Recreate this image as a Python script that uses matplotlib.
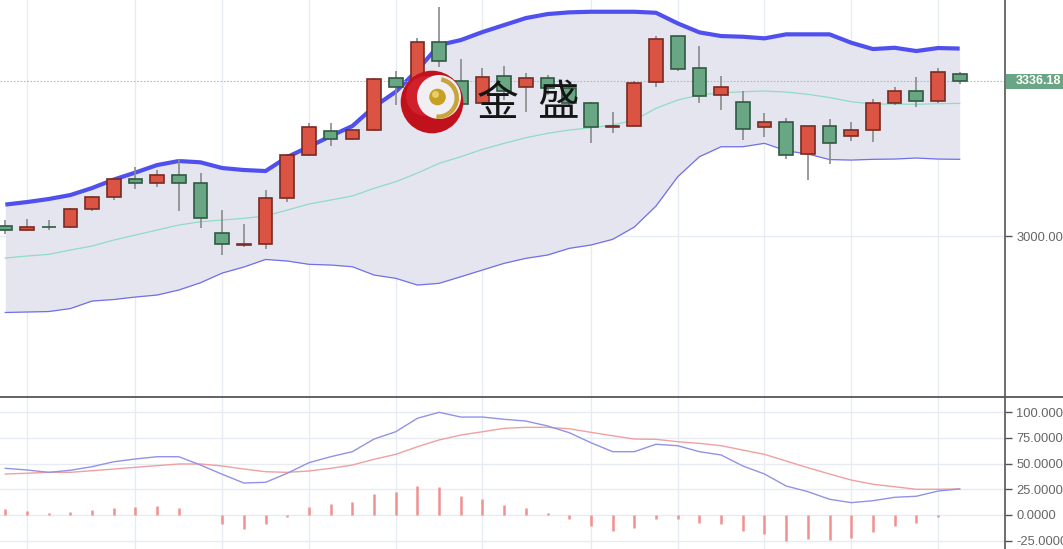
import numpy as np
import matplotlib
matplotlib.use('Agg')
import matplotlib.pyplot as plt
from matplotlib.patches import Circle, Rectangle, Wedge
from matplotlib.lines import Line2D

plt.rcParams['font.family'] = ['Liberation Sans', 'DejaVu Sans']

# daily K-line data
opens = [3022.3, 3012.4, 3020.2, 3019.5, 3057.9, 3085.2, 3123.6, 3114.3, 3131.7, 3114.3,
         3005.9, 2979.8, 2983.3, 3082.4, 3175.0, 3227.1, 3210.4, 3229.3, 3342.1, 3321.0,
         3421.4, 3336.8, 3287.8, 3347.7, 3323.8, 3342.1, 3321.0, 3287.8, 3237.5, 3238.6,
         3334.7, 3434.5, 3364.4, 3305.8, 3290.0, 3236.4, 3247.3, 3178.5, 3238.6, 3217.6,
         3229.3, 3289.1, 3314.5, 3293.5, 3352.0]
highs = [3034.7, 3037.5, 3034.7, 3060.7, 3086.8, 3126.5, 3149.0, 3143.2, 3167.0, 3137.3,
         3056.4, 3025.4, 3099.8, 3177.2, 3244.4, 3244.4, 3232.1, 3342.7, 3357.2, 3428.8,
         3497.4, 3383.9, 3365.0, 3369.4, 3352.9, 3349.2, 3327.5, 3290.0, 3268.3, 3336.2,
         3433.8, 3434.5, 3412.1, 3346.4, 3314.5, 3266.1, 3256.6, 3239.5, 3253.1, 3247.9,
         3296.5, 3323.8, 3344.2, 3364.4, 3356.4]
lows = [3004.3, 3010.8, 3013.0, 3018.4, 3054.9, 3078.1, 3101.9, 3106.9, 3054.9, 3017.4,
        2958.8, 2975.5, 2972.5, 3073.1, 3174.0, 3195.2, 3209.3, 3228.8, 3283.5, 3316.7,
        3367.2, 3280.4, 3284.1, 3295.0, 3268.3, 3305.8, 3282.0, 3202.4, 3222.8, 3236.4,
        3322.5, 3357.9, 3289.1, 3273.3, 3208.2, 3215.4, 3167.7, 3121.5, 3155.5, 3205.4,
        3204.5, 3284.8, 3279.1, 3289.1, 3329.7]
closes = [3012.4, 3020.2, 3018.9, 3058.6, 3083.9, 3123.6, 3114.3, 3131.7, 3114.3, 3039.0,
          2982.0, 2983.3, 3082.4, 3175.0, 3236.4, 3210.4, 3229.3, 3340.5, 3322.5, 3421.4,
          3379.6, 3285.7, 3345.5, 3315.2, 3342.1, 3321.0, 3288.5, 3236.4, 3238.6, 3331.2,
          3427.3, 3362.2, 3304.3, 3322.5, 3232.1, 3247.9, 3176.3, 3238.6, 3202.4, 3229.3,
          3287.8, 3313.9, 3293.5, 3355.7, 3336.18]

# bollinger bands
boll_upper = [3068.3, 3073.7, 3080.3, 3088.9, 3104.1, 3122.5, 3137.7, 3154.0, 3162.7, 3159.9,
              3147.5, 3143.2, 3141.0, 3171.4, 3193.7, 3216.9, 3238.6, 3280.4, 3313.0, 3360.1,
              3414.3, 3425.1, 3442.5, 3457.7, 3472.8, 3481.5, 3485.2, 3486.5, 3486.5, 3486.5,
              3484.3, 3461.3, 3441.8, 3433.8, 3432.3, 3428.8, 3437.5, 3437.5, 3437.5, 3419.3,
              3405.6, 3408.4, 3401.3, 3407.8, 3406.7]
boll_mid = [2952.3, 2956.6, 2960.3, 2969.6, 2978.3, 2991.3, 3002.2, 3013.0, 3023.9, 3031.0,
            3034.7, 3038.4, 3043.4, 3056.4, 3069.4, 3078.1, 3086.8, 3103.5, 3117.8, 3136.6,
            3157.7, 3172.0, 3188.1, 3201.1, 3213.2, 3222.8, 3229.9, 3234.9, 3240.8, 3251.6,
            3277.0, 3295.0, 3305.8, 3310.8, 3313.0, 3314.5, 3312.3, 3307.4, 3300.4, 3291.3,
            3286.3, 3286.3, 3285.7, 3287.0, 3287.8]
boll_lower = [2834.1, 2835.2, 2836.2, 2842.7, 2859.0, 2862.3, 2867.7, 2872.0, 2882.9, 2898.7,
              2919.7, 2932.8, 2949.2, 2945.8, 2938.6, 2937.1, 2933.4, 2915.4, 2908.3, 2893.7,
              2897.4, 2911.7, 2926.3, 2940.8, 2951.6, 2958.8, 2973.3, 2980.5, 2992.8, 3019.5,
              3065.1, 3128.6, 3172.0, 3193.7, 3193.7, 3201.1, 3185.0, 3177.9, 3165.9, 3164.8,
              3166.4, 3167.0, 3169.2, 3167.0, 3166.4]

# lower indicator panel
dif = [45.4, 43.8, 41.5, 43.5, 47.0, 51.8, 54.5, 56.7, 56.7, 48.6,
       39.6, 31.1, 31.8, 40.6, 50.9, 56.7, 61.6, 73.9, 81.0, 94.1,
       99.9, 95.3, 95.3, 93.1, 91.4, 86.6, 80.1, 70.3, 61.6, 61.6,
       68.8, 67.4, 61.6, 58.4, 47.7, 39.9, 28.2, 22.7, 15.3, 12.0,
       13.9, 17.2, 18.2, 23.3, 25.3]
dea = [39.9, 40.6, 41.5, 41.5, 43.1, 44.7, 46.4, 48.0, 49.6, 49.6,
       47.7, 44.7, 42.1, 41.5, 42.8, 45.4, 48.6, 54.2, 59.0, 66.4,
       73.0, 77.8, 81.0, 84.3, 85.3, 85.3, 83.9, 80.4, 77.1, 73.9,
       73.6, 71.3, 69.7, 67.4, 63.2, 59.0, 52.5, 46.0, 39.9, 34.0,
       29.9, 27.5, 25.0, 25.0, 25.3]
macd_bar = [5.5, 3.9, 1.9, 2.9, 4.6, 7.1, 7.8, 8.8, 7.1, 0.0,
            -8.5, -13.6, -9.0, -1.9, 7.8, 10.7, 12.9, 20.7, 22.4, 28.2,
            27.2, 18.2, 15.6, 9.4, 7.1, 1.9, -4.2, -10.7, -15.6, -12.4,
            -4.2, -4.2, -7.5, -9.0, -15.6, -18.2, -25.3, -23.3, -24.3, -22.7,
            -16.5, -10.7, -7.5, -1.7, 0.0]

grid_idx = [1, 6, 10, 14, 18, 22, 27, 31, 35, 39, 43]
price_ticks = [3000]
ind_ticks = [100, 75, 50, 25, 0, -25]
last_price = 3336.18

W, H = 1063, 549
fig = plt.figure(figsize=(W / 100, H / 100), dpi=100)
fig.patch.set_facecolor('white')

ax = fig.add_axes([0, 1 - 396 / H, 1005 / W, 396 / H])
ax2 = fig.add_axes([0, 0, 1005 / W, 152 / H])

x = np.arange(len(closes))
o = np.array(opens); c = np.array(closes)
up = c >= o
grid_c = '#e6ecf2'

for a in (ax, ax2):
    a.set_xlim(-0.245, 46.09)
    for g in grid_idx:
        a.axvline(g, color=grid_c, lw=1, zorder=0)
    a.set_xticks([])
    a.yaxis.tick_right()
    a.tick_params(axis='y', direction='out', length=5, width=1, color='#555555',
                  labelcolor='#666666', labelsize=9.3, pad=3)
    for s in ('left', 'top', 'bottom'):
        a.spines[s].set_visible(False)
    a.spines['right'].set_color('#555555')
    a.spines['right'].set_linewidth(1.2)

# top panel
ax.set_ylim(2653, 3512)
ax.set_yticks(price_ticks)
ax.set_yticklabels(['%.2f' % v for v in price_ticks])
for t in price_ticks:
    ax.axhline(t, color=grid_c, lw=1, zorder=0)

ax.fill_between(x, boll_lower, boll_upper, color='#e5e5f0', zorder=1, lw=0)
ax.plot(x, boll_mid, color='#8fdcc4', lw=0.9, zorder=2)
ax.plot(x, boll_lower, color='#7070ea', lw=0.9, zorder=2)
ax.plot(x, boll_upper, color='#5050ee', lw=3.0, zorder=2, solid_capstyle='butt')
ax.axhline(last_price, color='#b8b8b8', lw=0.8, ls=(0, (1.5, 1.5)), zorder=2)

ax.vlines(x, lows, highs, color='#8a8a8a', lw=1.2, zorder=3)
body_lo = np.minimum(o, c)
body_h = np.maximum(np.abs(c - o), 1.2)
ax.bar(x[up], body_h[up], bottom=body_lo[up], width=0.63, color='#db5443',
       edgecolor='#7a2a22', linewidth=1.2, zorder=4)
ax.bar(x[~up], body_h[~up], bottom=body_lo[~up], width=0.63, color='#69a784',
       edgecolor='#2f5a42', linewidth=1.2, zorder=4)

# bottom panel
ax2.set_ylim(-33.1, 114.8)
ax2.set_yticks(ind_ticks)
ax2.set_yticklabels(['%.4f' % v for v in ind_ticks])
for t in ind_ticks:
    ax2.axhline(t, color=grid_c, lw=1, zorder=0)
ax2.vlines(x, 0, macd_bar, color='#f09090', lw=1.8, zorder=2)
ax2.plot(x, dea, color='#f0a0a0', lw=1.0, zorder=3)
ax2.plot(x, dif, color='#9292e8', lw=1.0, zorder=3)

# overlay: separator, price tag, logo
ov = fig.add_axes([0, 0, 1, 1], zorder=10)
ov.set_xlim(0, W)
ov.set_ylim(H, 0)
ov.axis('off')
ov.patch.set_alpha(0)
ov.add_line(Line2D([0, W], [396.5, 396.5], color='#555555', lw=1.3))

ov.add_patch(Rectangle((1006, 73.5), 60, 15.5, color='#6aa586', lw=0))
ov.text(1016, 81.5, '%.2f' % last_price, color='white', fontsize=9, fontweight='bold',
        va='center', ha='left')

ov.add_patch(Circle((432, 102), 31.3, color='#c0111c', lw=0))
ov.add_patch(Circle((426, 96), 20, color='#e0303a', lw=0, alpha=0.5))
ov.add_patch(Circle((439, 97), 22, color='#f1eff4', lw=0))
ov.add_patch(Wedge((438, 98), 21, -80, 95, width=4.5, color='#c9a33c', lw=0))
ov.add_patch(Circle((437.5, 97), 8.3, color='#c6a022', lw=0))
ov.add_patch(Circle((435.5, 94.5), 3.5, color='#e8cf6a', lw=0))

ov.text(498, 104, '金', fontsize=30, family=['Noto Sans CJK SC', 'DejaVu Sans'],
        color='#151515', ha='center', va='center')
ov.text(558, 104, '盛', fontsize=30, family=['Noto Sans CJK SC', 'DejaVu Sans'],
        color='#151515', ha='center', va='center')

fig.savefig('out.png', dpi=100)
